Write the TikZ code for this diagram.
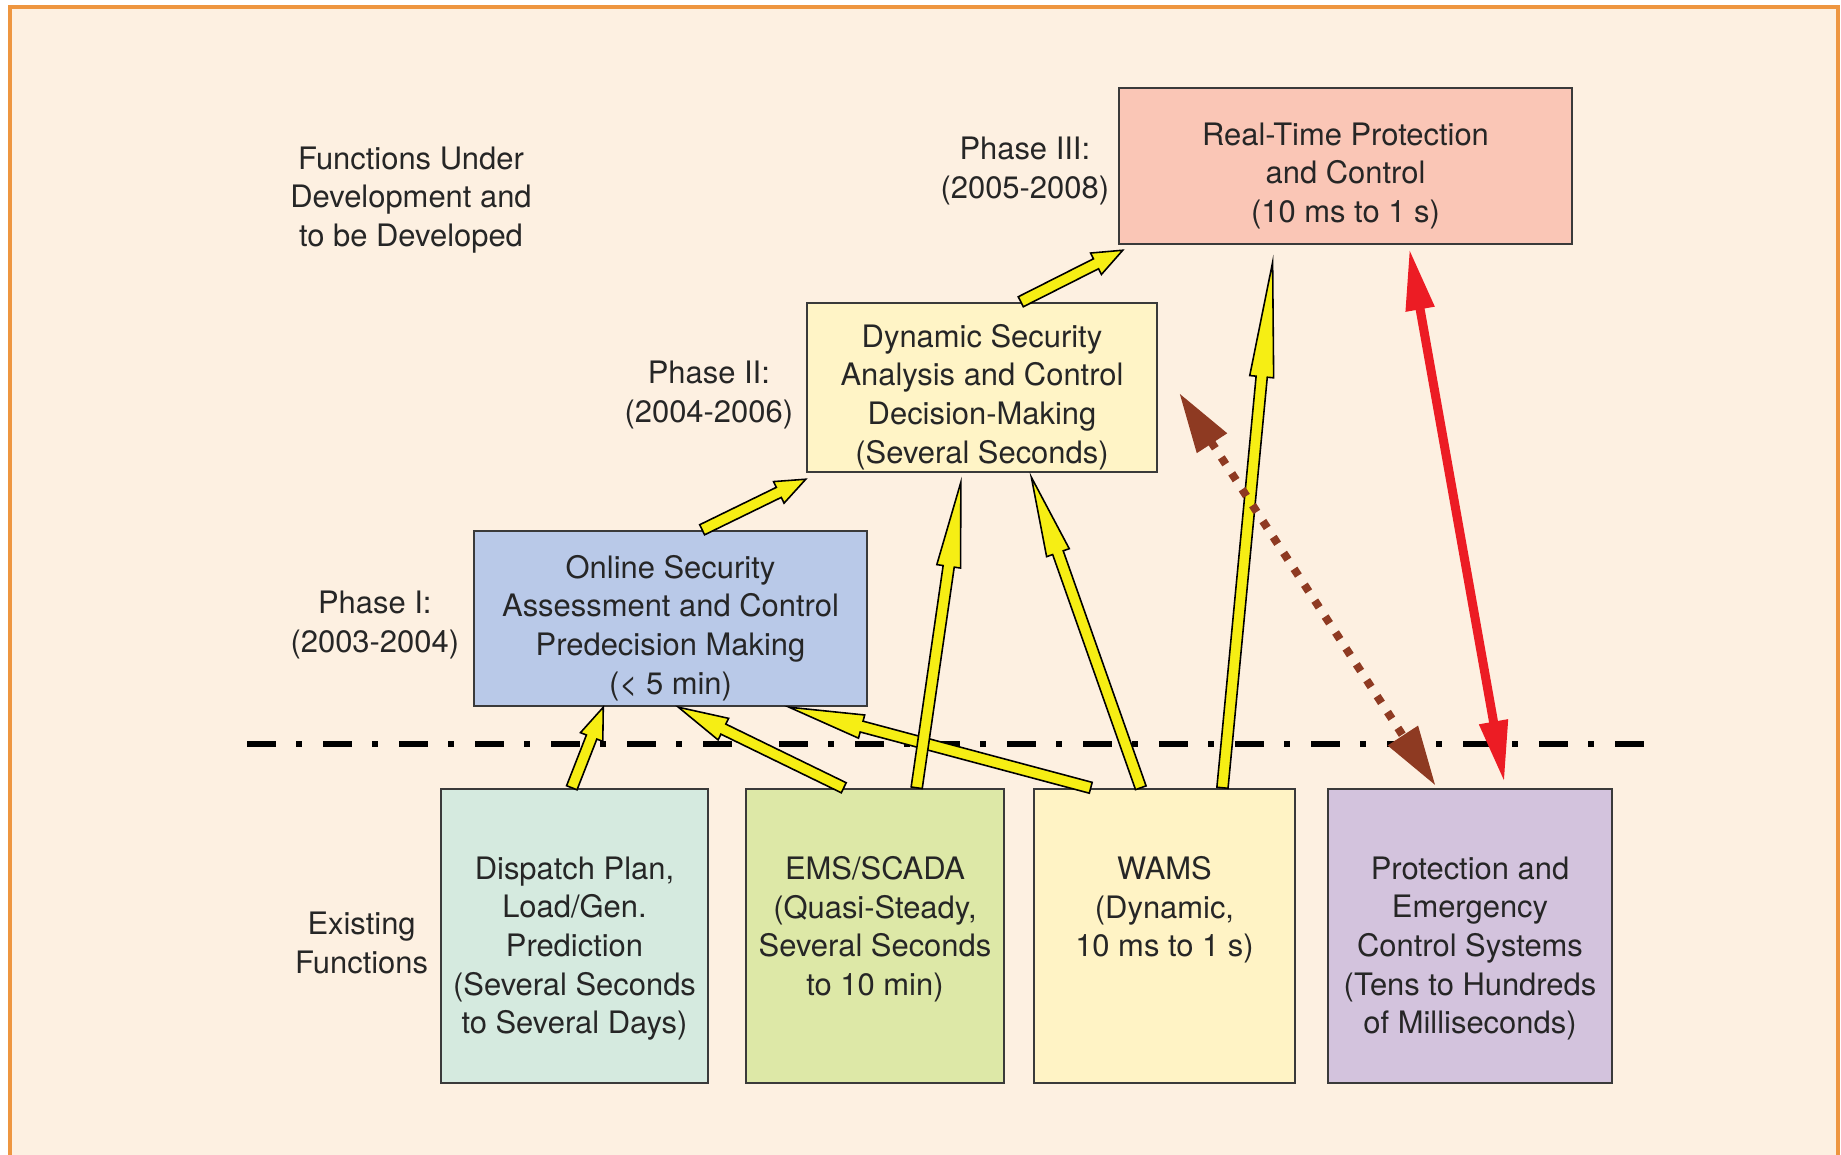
\documentclass[tikz,border=0pt]{standalone}
\usepackage{fontspec}
\setmainfont{TeX Gyre Heros}
\usetikzlibrary{positioning,calc,arrows.meta}
\definecolor{frameLine}{HTML}{EE9640}
\definecolor{frameFill}{HTML}{FDF0E1}
\definecolor{boxLine}{HTML}{3A3A3A}
\definecolor{textGrey}{HTML}{262626}
\definecolor{ph1Fill}{HTML}{B9C9E8}
\definecolor{ph2Fill}{HTML}{FFF4C6}
\definecolor{ph3Fill}{HTML}{FAC6B6}
\definecolor{dispFill}{HTML}{D5EADF}
\definecolor{emsFill}{HTML}{DDE8A7}
\definecolor{wamsFill}{HTML}{FFF3C5}
\definecolor{protFill}{HTML}{D3C3DD}
\definecolor{arrowYellow}{HTML}{F6EE14}
\definecolor{arrowBrown}{HTML}{8E3A22}
\definecolor{arrowRed}{HTML}{EC1C24}

\newcommand{\boxFont}{\fontsize{8.8}{11}\selectfont}

\tikzset{
  phaseBox/.style={draw=boxLine, line width=0.7pt, inner sep=0pt, align=center,
    font=\boxFont, text=textGrey, text height=#1},
  funcBox/.style={draw=boxLine, line width=0.7pt, inner sep=0pt, minimum height=2.94cm},
  boxText/.style={align=center, inner sep=0pt, font=\boxFont, text=textGrey},
  sideText/.style={align=center, inner sep=0pt, font=\boxFont, text=textGrey},
  fatArrowLine/.style={draw=black, line width=0.45pt, fill=arrowYellow, line join=miter},
  sepLine/.style={line width=1.8pt, dash pattern=on 0.29cm off 0.2cm on 0.06cm off 0.21cm},
  brownArrow/.style={arrowBrown, line width=0.08cm, dash pattern=on 0.08cm off 0.11cm,
    {Triangle[length=0.6cm,width=0.34cm]}-{Triangle[length=0.6cm,width=0.34cm]}},
  redArrow/.style={arrowRed, line width=0.09cm,
    {Triangle[length=0.62cm,width=0.27cm]}-{Triangle[length=0.62cm,width=0.27cm]}},
}

% fat outlined arrow: [head length, cm]{from}{to}
\newcommand{\fatArrow}[3][0.5]{%
  \coordinate (faS) at (#2);
  \coordinate (faE) at (#3);
  \coordinate (faH) at ($(faE)!#1cm!(faS)$);
  \draw[fatArrowLine]
    ($(faS)!\shaftW cm!90:(faE)$) -- ($(faH)!\shaftW cm!90:(faE)$)
    -- ($(faH)!\headW cm!90:(faE)$) -- (faE)
    -- ($(faH)!\headW cm!-90:(faE)$) -- ($(faH)!\shaftW cm!-90:(faE)$)
    -- ($(faS)!\shaftW cm!-90:(faE)$) -- cycle;
}

\begin{document}
\begin{tikzpicture}

\def\shaftW{0.056}         % half width of arrow shaft
\def\headW{0.12}           % half width of arrow head

\useasboundingbox (0,0) rectangle (18.41,-11.55);

% --- FRAME ---
\draw[frameLine, fill=frameFill, line width=1.2pt] (0.10,-0.07) rectangle (18.38,-11.75);

% --- PHASE BOXES ---
\node[phaseBox=34pt, fill=ph3Fill, minimum width=4.53cm, minimum height=1.56cm]
  (ph3) at (13.455,-1.66) {Real-Time Protection\\and Control\\(10 ms to 1 s)};
\node[phaseBox=45pt, fill=ph2Fill, minimum width=3.50cm, minimum height=1.69cm]
  (ph2) at (9.82,-3.875) {Dynamic Security\\Analysis and Control\\Decision-Making\\(Several Seconds)};
\node[phaseBox=45pt, fill=ph1Fill, minimum width=3.93cm, minimum height=1.75cm]
  (ph1) at (6.705,-6.185) {Online Security\\Assessment and Control\\Predecision Making\\(< 5 min)};

\node[sideText, left=0.08cm of ph3, yshift=-0.05cm] (ph3Lbl) {Phase III:\\(2005-2008)};
\node[sideText, left=0.12cm of ph2, yshift=-0.075cm] (ph2Lbl) {Phase II:\\(2004-2006)};
\node[sideText, left=0.13cm of ph1, yshift=-0.065cm] (ph1Lbl) {Phase I:\\(2003-2004)};
\node[sideText] (devLbl) at (4.11,-2.00) {Functions Under\\Development and\\to be Developed};

% --- EXISTING FUNCTIONS ---
\node[funcBox, fill=dispFill, minimum width=2.67cm] (disp) at (5.745,-9.36) {};
\node[funcBox, fill=emsFill,  minimum width=2.58cm] (ems)  at (8.75,-9.36) {};
\node[funcBox, fill=wamsFill, minimum width=2.61cm] (wams) at (11.645,-9.36) {};
\node[funcBox, fill=protFill, minimum width=2.84cm] (prot) at (14.70,-9.36) {};

\node[boxText, below=0.68cm of disp.north] (dispTxt)
  {Dispatch Plan,\\Load/Gen.\\Prediction\\(Several Seconds\\to Several Days)};
\node[boxText, below=0.68cm of ems.north] (emsTxt)
  {EMS/SCADA\\(Quasi-Steady,\\Several Seconds\\to 10 min)};
\node[boxText, below=0.68cm of wams.north] (wamsTxt)
  {WAMS\\(Dynamic,\\10 ms to 1 s)};
\node[boxText, below=0.68cm of prot.north] (protTxt)
  {Protection and\\Emergency\\Control Systems\\(Tens to Hundreds\\of Milliseconds)};

\node[sideText, left=0.11cm of disp, yshift=-0.07cm] (existLbl) {Existing\\Functions};

% --- SEPARATOR ---
\draw[sepLine] (2.47,-7.44) -- (16.44,-7.44);

% --- YELLOW ARROWS (source, fraction, target, fraction, drop, head length) ---
\foreach \src/\sf/\dst/\df/\dy/\hl in {
    disp/0.49/ph1/0.33/0/0.32,
    ems/0.38/ph1/0.52/0/0.5,
    wams/0.22/ph1/0.80/0/0.75,
    ems/0.66/ph2/0.44/-0.09/0.85,
    wams/0.41/ph2/0.64/-0.04/0.8,
    wams/0.72/ph3/0.34/-0.17/1.15,
    ph1/0.58/ph2/0/-0.06/0.3,
    ph2/0.61/ph3/0.011/-0.05/0.3} {
  \fatArrow[\hl]{$(\src.north west)!\sf!(\src.north east)$}
    {$(\dst.south west)!\df!(\dst.south east)+(0,\dy)$}
}

% --- PROTECTION LINKS ---
\draw[brownArrow] ($(ph2.east)+(0.21,-0.055)$) -- ($(prot.north west)!0.38!(prot.north east)+(0,0.02)$);
\draw[redArrow] ($(ph3.south west)!0.64!(ph3.south east)+(0,-0.03)$)
  -- ($(prot.north west)!0.62!(prot.north east)+(0,0.05)$);

\end{tikzpicture}
\end{document}
